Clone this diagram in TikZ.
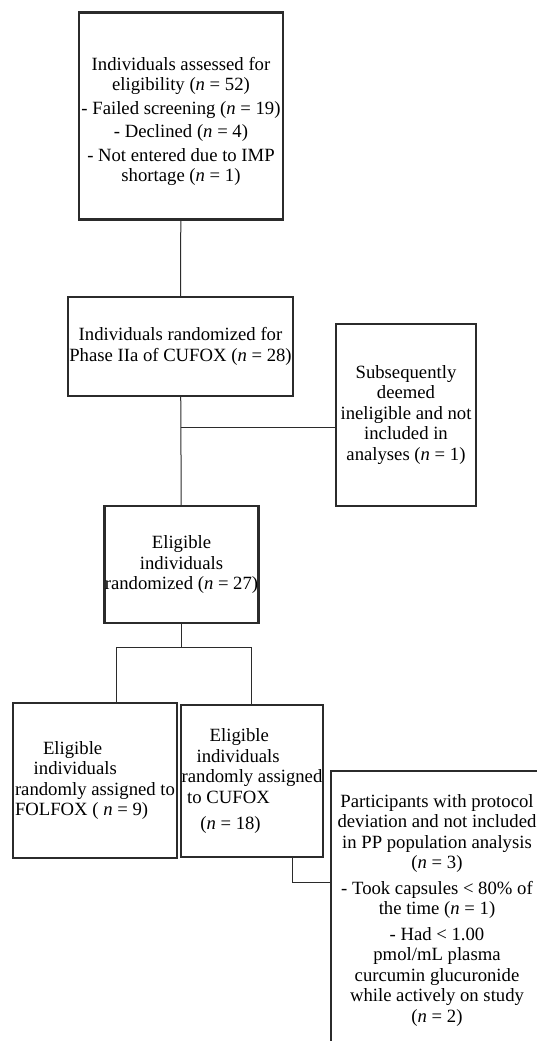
\documentclass[tikz,border=0pt]{standalone}
\usepackage{fontspec}
\setmainfont{Liberation Serif}
\usetikzlibrary{calc}
\newcommand{\nn}{\textit{n}}
\definecolor{boxline}{HTML}{2B2B2B}
\tikzset{
  box/.style={draw=boxline, line width=2.4pt, inner sep=0.5pt, align=center},
  link/.style={draw=boxline, line width=1pt},
}

\begin{document}
\begin{tikzpicture}[x=1pt,y=-1pt,font=\fontsize{18.7}{20.5}\selectfont]
      \useasboundingbox (0,0) rectangle (537,1041);
      \clip (0,0) rectangle (537,1041);

      \node[box, minimum width=204, minimum height=207] (assess) at (181,116)
        {\\[4pt]Individuals assessed for\\ eligibility (\nn{} = 52)\\[3pt]
         - Failed screening (\nn{} = 19)\\[3pt]
         - Declined (\nn{} = 4)\\[3pt]
         - Not entered due to IMP\\ shortage (\nn{} = 1)};
      \node[box, minimum width=225, minimum height=99] (rand) at (180.5,346.5)
        {Individuals randomized for\\ Phase IIa of CUFOX (\nn{} = 28)};
      \node[box, minimum width=140, minimum height=182] (inelig) at (406,415)
        {Subsequently\\ deemed\\ ineligible and not\\ included in\\ analyses (\nn{} = 1)};
      \node[box, minimum width=153, minimum height=117] (elig) at (181.5,564.5)
        {Eligible\\ individuals\\ randomized (\nn{} = 27)};
      \node[box, align=left, minimum width=164, minimum height=155] (folfox) at (95,780.5)
        {\hspace*{1.5em}Eligible\\ \hspace*{1em}individuals\\ randomly assigned to\\ FOLFOX ( \nn{} = 9)};
      \node[box, align=left, minimum width=142, minimum height=152] (cufox) at (252,781)
        {\hspace*{1.5em}Eligible\\ \hspace*{0.8em}individuals\\ randomly assigned\\ \hspace*{0.3em}to CUFOX\\[6pt] \hspace*{1em}(\nn{} = 18)};
      \node[box, minimum width=212, minimum height=278] (pp) at (437,910)
        {Participants with protocol\\ deviation and not included\\ in PP population analysis\\ (\nn{} = 3)\\[5pt]
         - Took capsules < 80\% of\\ the time (\nn{} = 1)\\[5pt]
         - Had < 1.00\\ pmol/mL plasma\\ curcumin glucuronide\\ while actively on study\\ (\nn{} = 2)};

      \coordinate (cut) at (rand.south |- 0,427);
      \coordinate (sl) at (116,647);
      \coordinate (sr) at (251,647);
      \coordinate (dv) at (292,882);

      \draw[link] (assess) -- (rand);
      \draw[link] (rand) -- (elig);
      \draw[link] (cut) -- (cut -| inelig.west);
      \draw[link] (elig) -- (elig |- sl);
      \draw[link] (sl) -- (sr);
      \draw[link] (sl) -- (sl |- folfox.north);
      \draw[link] (sr) -- (sr |- cufox.north);
      \draw[link] (dv |- cufox.south) -- (dv) -- (dv -| pp.west);
\end{tikzpicture}
\end{document}
